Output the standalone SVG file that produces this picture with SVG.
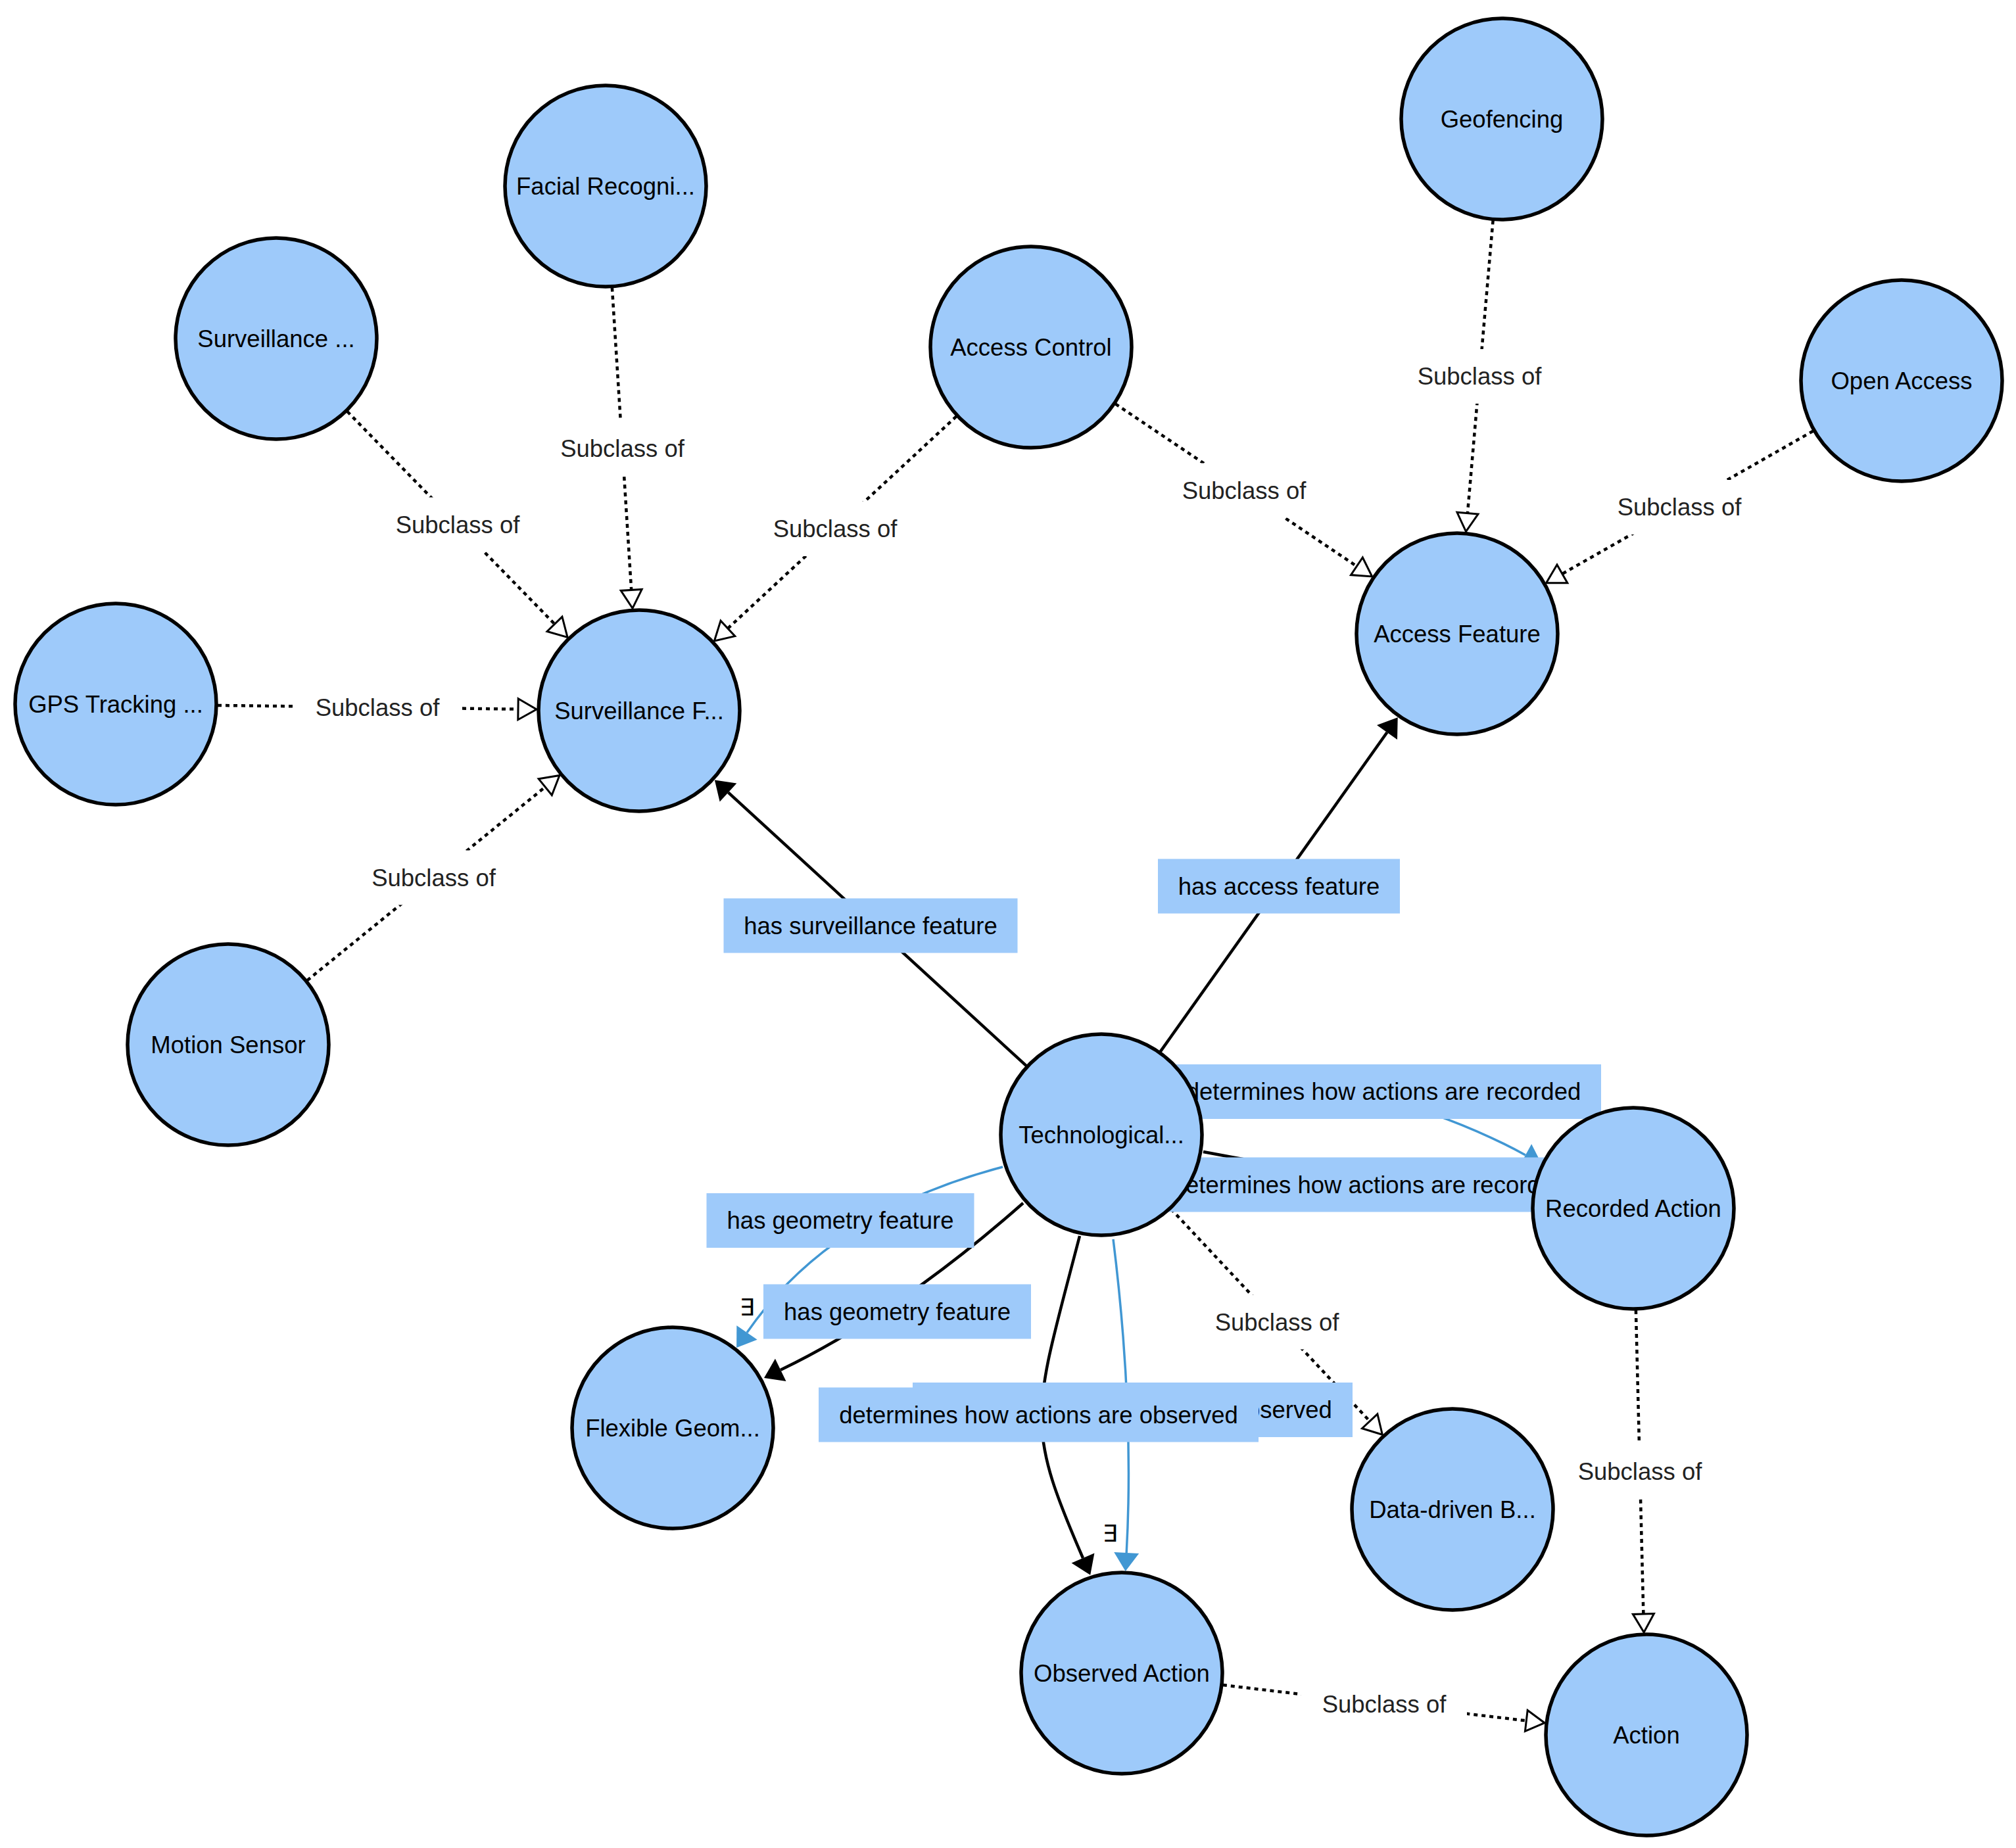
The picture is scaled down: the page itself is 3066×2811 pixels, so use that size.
<svg xmlns="http://www.w3.org/2000/svg" width="3066" height="2811" viewBox="0 0 3066 2811">
<style>
  .node circle { fill: #9ecafa; stroke: #000; stroke-width: 5.5; }
  .node text { font-family: "Liberation Sans", Arial, sans-serif; font-size: 36.5px; fill: #000; text-anchor: middle; }
  .sub { fill: none; stroke: #000; stroke-width: 4.5; stroke-dasharray: 6 6; marker-end: url(#hollow); }
  .rel { fill: none; stroke: #000; stroke-width: 4.5; marker-end: url(#arrBlack); }
  .relb { fill: none; stroke: #4197d3; stroke-width: 3.5; marker-end: url(#arrBlue); }
  .lblBlue { fill: #9ecafa; }
  .lblWhite { fill: #fff; }
  .lt { font-family: "Liberation Sans", Arial, sans-serif; font-size: 36.5px; fill: #000; text-anchor: middle; }
  .ls { font-family: "Liberation Sans", Arial, sans-serif; font-size: 36.5px; fill: #222; text-anchor: middle; }
  .ex { font-family: "DejaVu Sans", sans-serif; font-size: 36px; fill: #000; text-anchor: middle; }
</style>
<defs>
  <marker id="hollow" markerUnits="userSpaceOnUse" markerWidth="40" markerHeight="40" refX="2" refY="20" orient="auto" overflow="visible">
    <path d="M2,4 L30,20 L2,36 Z" fill="#fff" stroke="#000" stroke-width="3" stroke-linejoin="miter"/>
  </marker>
  <marker id="arrBlack" markerUnits="userSpaceOnUse" markerWidth="40" markerHeight="40" refX="0" refY="20" orient="auto" overflow="visible">
    <path d="M0,1 L28,20 L0,39 Z" fill="#000"/>
  </marker>
  <marker id="arrBlue" markerUnits="userSpaceOnUse" markerWidth="40" markerHeight="40" refX="0" refY="20" orient="auto" overflow="visible">
    <path d="M0,1 L28,20 L0,39 Z" fill="#4197d3"/>
  </marker>
</defs>
<rect x="0" y="0" width="3066" height="2811" fill="#fff"/>

<g id="connectors">
  <!-- subclass edges -->
  <line class="sub" x1="930.9" y1="437.7" x2="960.2" y2="897.4"/>
  <line class="sub" x1="528.2" y1="626" x2="843.5" y2="949.3"/>
  <line class="sub" x1="1454.4" y1="633.4" x2="1106.9" y2="955.9"/>
  <line class="sub" x1="331" y1="1072.9" x2="788" y2="1078.7"/>
  <line class="sub" x1="467.3" y1="1491.2" x2="829.2" y2="1197.1"/>
  <line class="sub" x1="1696.6" y1="614.5" x2="2063.4" y2="861.3"/>
  <line class="sub" x1="2270.6" y1="335.4" x2="2231.9" y2="780.7"/>
  <line class="sub" x1="2757.3" y1="655.7" x2="2375.9" y2="872.9"/>
  <line class="sub" x1="1781" y1="1839.1" x2="2083.2" y2="2161.8"/>
  <line class="sub" x1="2487.9" y1="1993" x2="2499.4" y2="2455"/>
  <line class="sub" x1="1859.9" y1="2563.1" x2="2321.3" y2="2617.4"/>
  <!-- relation edges -->
  <line class="rel" x1="1560.8" y1="1621.2" x2="1107.5" y2="1205.4"/>
  <line class="rel" x1="1764.7" y1="1599.6" x2="2109.5" y2="1114"/>
  <path class="rel" d="M1830,1752 Q2080,1800 2302,1812"/>
  <path class="relb" d="M1819,1672 C1950,1610 2180,1680 2320,1757"/>
  <path class="relb" d="M1525,1775 Q1262,1844 1136,2027"/>
  <path class="rel" d="M1556,1830 Q1367.7,1996.4 1187.2,2083.8"/>
  <path class="rel" d="M1642,1880 C1571,2153 1557,2163 1647,2370"/>
  <path class="relb" d="M1693,1885 Q1725.2,2144.5 1713.2,2362"/>

  <!-- labels -->
  <g id="edge-labels">
    <rect class="lblWhite" x="820.5" y="640.5" width="252" height="83"/>
    <text class="ls" x="946.5" y="682" dy=".35em">Subclass of</text>
    <rect class="lblWhite" x="570" y="756.5" width="252" height="83"/>
    <text class="ls" x="696" y="798" dy=".35em">Subclass of</text>
    <rect class="lblWhite" x="1144" y="763" width="252" height="83"/>
    <text class="ls" x="1270" y="804.5" dy=".35em">Subclass of</text>
    <rect class="lblWhite" x="448" y="1034.5" width="252" height="83"/>
    <text class="ls" x="574" y="1076" dy=".35em">Subclass of</text>
    <rect class="lblWhite" x="533.5" y="1293.5" width="252" height="83"/>
    <text class="ls" x="659.5" y="1335" dy=".35em">Subclass of</text>
    <rect class="lblWhite" x="1766" y="704.5" width="252" height="83"/>
    <text class="ls" x="1892" y="746" dy=".35em">Subclass of</text>
    <rect class="lblWhite" x="2124" y="531" width="252" height="83"/>
    <text class="ls" x="2250" y="572.5" dy=".35em">Subclass of</text>
    <rect class="lblWhite" x="2428" y="730" width="252" height="83"/>
    <text class="ls" x="2554" y="771.5" dy=".35em">Subclass of</text>
    <rect class="lblWhite" x="1816" y="1969.5" width="252" height="83"/>
    <text class="ls" x="1942" y="2011" dy=".35em">Subclass of</text>
    <rect class="lblWhite" x="2368" y="2197" width="252" height="83"/>
    <text class="ls" x="2494" y="2238.5" dy=".35em">Subclass of</text>
    <rect class="lblWhite" x="1979" y="2550.5" width="252" height="83"/>
    <text class="ls" x="2105" y="2592" dy=".35em">Subclass of</text>

    <rect class="lblBlue" x="1100.5" y="1366.5" width="447" height="83"/>
    <text class="lt" x="1324" y="1408" dy=".35em">has surveillance feature</text>
    <rect class="lblBlue" x="1761" y="1306.5" width="368" height="83"/>
    <text class="lt" x="1945" y="1348" dy=".35em">has access feature</text>
    <rect class="lblBlue" x="1773" y="1619" width="662" height="83"/>
    <text class="lt" x="2104" y="1660.5" dy=".35em">determines how actions are recorded</text>
    <rect class="lblBlue" x="1752" y="1760.5" width="662" height="83"/>
    <text class="lt" x="2083" y="1802" dy=".35em">determines how actions are recorded</text>
    <rect class="lblBlue" x="1074.5" y="1815" width="407" height="83"/>
    <text class="lt" x="1278" y="1856.5" dy=".35em">has geometry feature</text>
    <rect class="lblBlue" x="1161" y="1953.5" width="407" height="83"/>
    <text class="lt" x="1364.5" y="1995" dy=".35em">has geometry feature</text>
    <rect class="lblBlue" x="1388" y="2103" width="669" height="83"/>
    <text class="lt" x="1722.5" y="2144.5" dy=".35em">determines how actions are observed</text>
    <rect class="lblBlue" x="1245" y="2110.5" width="669" height="83"/>
    <text class="lt" x="1579.5" y="2152" dy=".35em">determines how actions are observed</text>

    <text class="ex" x="1136" y="1988" dy=".35em">∃</text>
    <text class="ex" x="1688" y="2332" dy=".35em">∃</text>
  </g>
</g>

<g id="nodes">
  <g id="n-facial" class="node"><circle cx="921" cy="283" r="153"/><text x="921" y="283" dy=".35em">Facial Recogni...</text></g>
  <g id="n-surv-dots" class="node"><circle cx="420" cy="515" r="153"/><text x="420" y="515" dy=".35em">Surveillance ...</text></g>
  <g id="n-access-control" class="node"><circle cx="1568" cy="528" r="153"/><text x="1568" y="528" dy=".35em">Access Control</text></g>
  <g id="n-geofencing" class="node"><circle cx="2284" cy="181" r="153"/><text x="2284" y="181" dy=".35em">Geofencing</text></g>
  <g id="n-open-access" class="node"><circle cx="2892" cy="579" r="153"/><text x="2892" y="579" dy=".35em">Open Access</text></g>
  <g id="n-access-feature" class="node"><circle cx="2216" cy="964" r="153"/><text x="2216" y="964" dy=".35em">Access Feature</text></g>
  <g id="n-gps" class="node"><circle cx="176" cy="1071" r="153"/><text x="176" y="1071" dy=".35em">GPS Tracking ...</text></g>
  <g id="n-surv-feature" class="node"><circle cx="972" cy="1081" r="153"/><text x="972" y="1081" dy=".35em">Surveillance F...</text></g>
  <g id="n-motion" class="node"><circle cx="347" cy="1589" r="153"/><text x="347" y="1589" dy=".35em">Motion Sensor</text></g>
  <g id="n-tech" class="node"><circle cx="1675" cy="1726" r="153"/><text x="1675" y="1726" dy=".35em">Technological...</text></g>
  <g id="n-recorded" class="node"><circle cx="2484" cy="1838" r="153"/><text x="2484" y="1838" dy=".35em">Recorded Action</text></g>
  <g id="n-flexible" class="node"><circle cx="1023" cy="2172" r="153"/><text x="1023" y="2172" dy=".35em">Flexible Geom...</text></g>
  <g id="n-datadriven" class="node"><circle cx="2209" cy="2296" r="153"/><text x="2209" y="2296" dy=".35em">Data-driven B...</text></g>
  <g id="n-observed" class="node"><circle cx="1706" cy="2545" r="153"/><text x="1706" y="2545" dy=".35em">Observed Action</text></g>
  <g id="n-action" class="node"><circle cx="2504" cy="2639" r="153"/><text x="2504" y="2639" dy=".35em">Action</text></g>
</g>
</svg>
